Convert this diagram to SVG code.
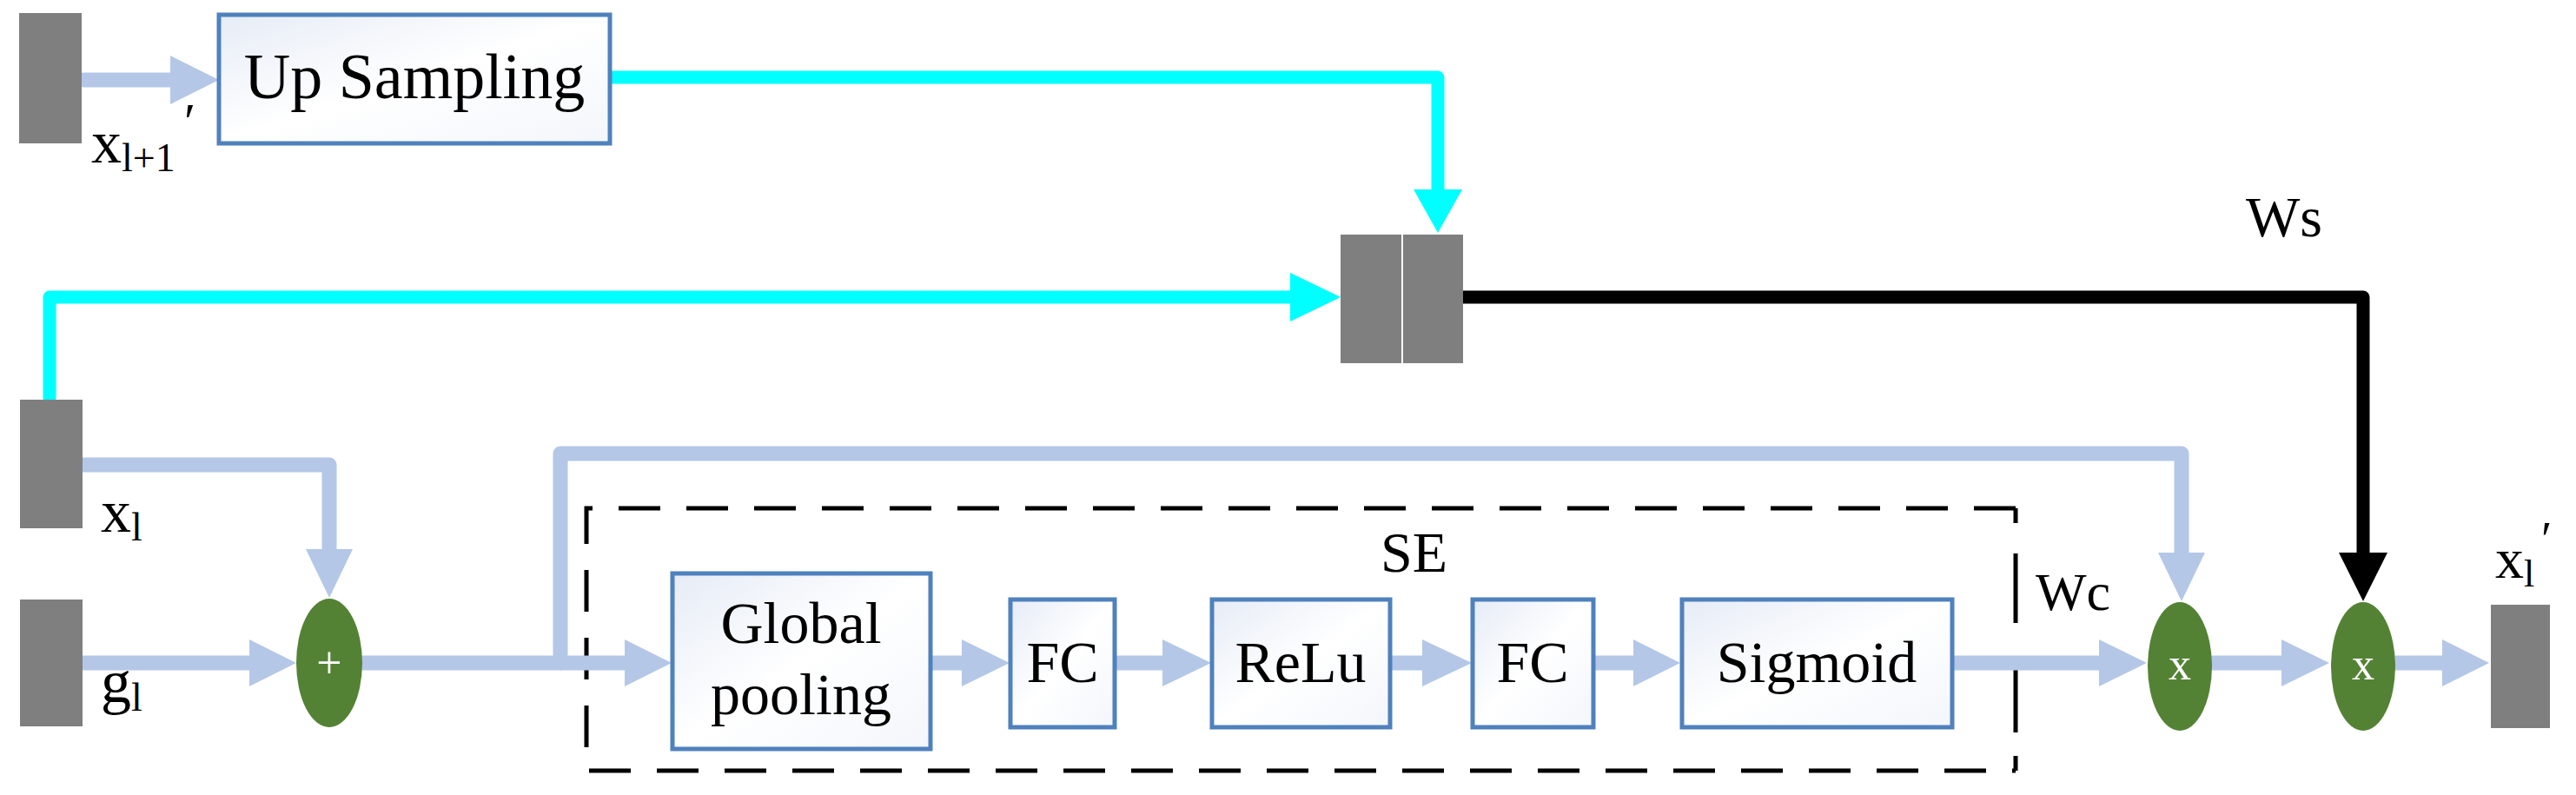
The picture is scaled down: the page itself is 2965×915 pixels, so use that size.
<svg xmlns="http://www.w3.org/2000/svg" width="2965" height="915" viewBox="0 0 2965 915">
<defs>
<linearGradient id="bg" x1="0" y1="0" x2="1" y2="1"><stop offset="0" stop-color="#e6ecf6"/><stop offset="0.5" stop-color="#ffffff"/><stop offset="1" stop-color="#f3f6fb"/></linearGradient>
<style>
.blk{fill:#7f7f7f}
.box{fill:url(#bg);stroke:#4f81bd;stroke-width:5}
.ell{fill:#548235}
.t{font-family:"Liberation Serif","Times New Roman",serif;fill:#000}
.w{font-family:"Liberation Serif","Times New Roman",serif;fill:#fff;font-size:52px;text-anchor:middle}
.b{fill:none;stroke:#b4c7e7;stroke-width:17;stroke-linejoin:round;stroke-linecap:round}
.bh{fill:#b4c7e7}
.c{fill:none;stroke:#00ffff;stroke-width:15;stroke-linejoin:round;stroke-linecap:round}
.ch{fill:#00ffff}
.k{fill:none;stroke:#000;stroke-width:15;stroke-linejoin:round}
.kh{fill:#000}
.dash{fill:none;stroke:#000;stroke-width:5;stroke-dasharray:48 30}
</style>
</defs>
<g id="se-frame">
<path class="dash" d="M2320,585 H675 V887 H2320"/>
<path d="M2320,585 V602 M2320,637 V717 M2320,768 V843 M2320,870 V887" stroke="#000" stroke-width="5"/>
<text class="t" x="1589" y="658" font-size="66">SE</text>
<text class="t" x="2343" y="702" font-size="62">Wc</text>
</g>
<g id="connectors">
<path class="b" d="M96,92 H198"/><polygon class="bh" points="196,64 252,92 196,120"/>
<path class="c" d="M702,89 H1655 V220"/><polygon class="ch" points="1627,218 1683,218 1655,268"/>
<path class="c" d="M57,458 V342 H1487"/><polygon class="ch" points="1485,314 1543,342 1485,370"/>
<path class="k" d="M1684,342 H2720 V638"/><polygon class="kh" points="2692,636 2748,636 2720,692"/>
<path class="b" d="M96,535 H379 V634"/><polygon class="bh" points="352,632 406,632 379,688"/>
<path class="b" d="M96,763 H289"/><polygon class="bh" points="287,736 341,763 287,790"/>
<path class="b" d="M417,763 H721"/><polygon class="bh" points="719,736 773,763 719,790"/>
<path class="b" d="M645,763 V522 H2511 V638"/><polygon class="bh" points="2484,636 2538,636 2511,692"/>
<path class="b" d="M1071,763 H1109"/><polygon class="bh" points="1107,736 1162,763 1107,790"/>
<path class="b" d="M1283,763 H1340"/><polygon class="bh" points="1338,736 1394,763 1338,790"/>
<path class="b" d="M1600,763 H1639"/><polygon class="bh" points="1637,736 1694,763 1637,790"/>
<path class="b" d="M1834,763 H1882"/><polygon class="bh" points="1880,736 1934,763 1880,790"/>
<path class="b" d="M2247,763 H2418"/><polygon class="bh" points="2416,736 2471,763 2416,790"/>
<path class="b" d="M2546,763 H2628"/><polygon class="bh" points="2626,736 2681,763 2626,790"/>
<path class="b" d="M2757,763 H2813"/><polygon class="bh" points="2811,736 2865,763 2811,790"/>
</g>
<g id="x_l1"><rect class="blk" x="22" y="15" width="72" height="150"/>
<text class="t" x="105" y="187" font-size="70">x<tspan font-size="46" dy="10">l+1</tspan></text>
<text class="t" x="212" y="160" font-size="60">′</text></g>
<g id="upsampling"><rect class="box" x="252" y="17" width="450" height="148"/>
<text class="t" x="477" y="113" font-size="74" text-anchor="middle">Up Sampling</text></g>
<g id="x_l"><rect class="blk" x="23" y="460" width="72" height="148"/>
<text class="t" x="116" y="612" font-size="70">x<tspan font-size="46" dy="10">l</tspan></text></g>
<g id="g_l"><rect class="blk" x="23" y="690" width="72" height="146"/>
<text class="t" x="116" y="808" font-size="70">g<tspan font-size="46" dy="10">l</tspan></text></g>
<g id="concat"><rect class="blk" x="1543" y="270" width="70" height="148"/><rect class="blk" x="1615" y="270" width="69" height="148"/></g>
<g id="ws"><text class="t" x="2585" y="272" font-size="66">Ws</text></g>
<g id="add"><ellipse class="ell" cx="379" cy="763" rx="38" ry="74"/><text class="w" x="379" y="780">+</text></g>
<g id="gp"><rect class="box" x="774" y="660" width="297" height="202"/>
<text class="t" x="922" y="740" font-size="68" text-anchor="middle">Global</text>
<text class="t" x="922" y="822" font-size="68" text-anchor="middle">pooling</text></g>
<g id="fc1"><rect class="box" x="1163" y="690" width="120" height="147"/><text class="t" x="1223" y="785" font-size="68" text-anchor="middle">FC</text></g>
<g id="relu"><rect class="box" x="1395" y="690" width="205" height="147"/><text class="t" x="1497" y="785" font-size="68" text-anchor="middle">ReLu</text></g>
<g id="fc2"><rect class="box" x="1695" y="690" width="139" height="147"/><text class="t" x="1764" y="785" font-size="68" text-anchor="middle">FC</text></g>
<g id="sigmoid"><rect class="box" x="1936" y="690" width="311" height="147"/><text class="t" x="2091" y="785" font-size="68" text-anchor="middle">Sigmoid</text></g>
<g id="mul1"><ellipse class="ell" cx="2509" cy="767" rx="37" ry="74"/><text class="w" x="2509" y="782">x</text></g>
<g id="mul2"><ellipse class="ell" cx="2720" cy="767" rx="37" ry="74"/><text class="w" x="2720" y="782">x</text></g>
<g id="x_l_out"><rect class="blk" x="2867" y="696" width="68" height="142"/>
<text class="t" x="2872" y="665" font-size="66">x<tspan font-size="44" dy="10">l</tspan></text>
<text class="t" x="2925" y="640" font-size="56">′</text></g>
</svg>
